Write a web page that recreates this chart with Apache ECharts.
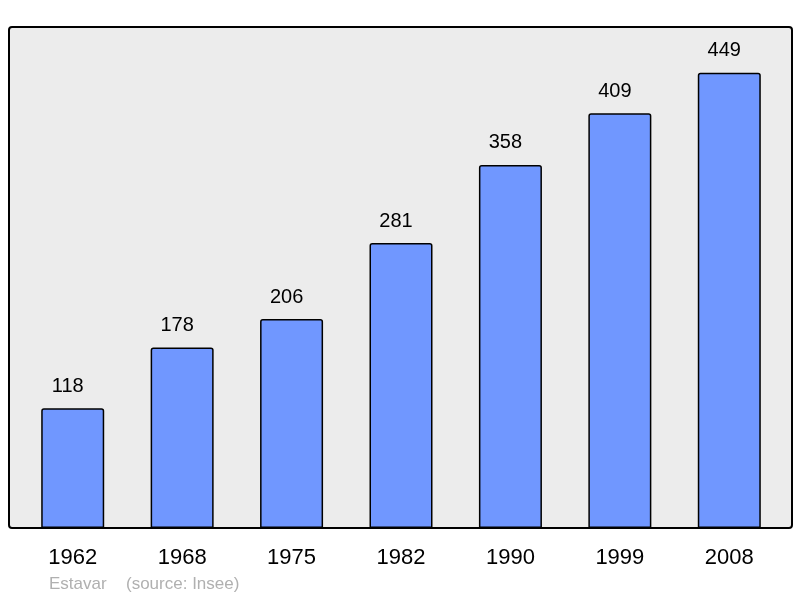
<!DOCTYPE html>
<html>
<head>
<meta charset="utf-8">
<script src="https://cdn.jsdelivr.net/npm/echarts@6/dist/echarts.min.js"></script>
<style>html,body{margin:0;padding:0;background:#fff}#c{width:800px;height:598px}</style>
</head>
<body>
<div id="c"></div>
<script>
const years = ['1962', '1968', '1975', '1982', '1990', '1999', '2008'];
const population = [118, 178, 206, 281, 358, 409, 449];
const commune = 'Estavar';
const source = '(source: Insee)';

const chart = echarts.init(document.getElementById('c'), null, {renderer: 'canvas'});
chart.setOption({
  animation: false,
  backgroundColor: '#ffffff',
  textStyle: {fontFamily: 'Liberation Sans, Arial, sans-serif'},
  graphic: [
    {type: 'rect', z: 0, shape: {x: 9, y: 27, width: 783, height: 501, r: 3},
     style: {fill: '#ececec', stroke: '#000', lineWidth: 2}},
    {type: 'text', left: 49, top: 576, z: 10,
     style: {text: commune, fill: '#b0b0b0', font: '17px "Liberation Sans", Arial, sans-serif'}},
    {type: 'text', left: 126, top: 576, z: 10,
     style: {text: source, fill: '#b0b0b0', font: '17px "Liberation Sans", Arial, sans-serif'}}
  ],
  grid: {left: 18, right: 16, top: 27, bottom: 70, containLabel: false},
  xAxis: {
    type: 'category', data: years,
    axisLine: {show: false}, axisTick: {show: false},
    axisLabel: {color: '#000', fontSize: 22, margin: 19, fontFamily: 'Liberation Sans, Arial, sans-serif'}
  },
  yAxis: {type: 'value', min: 0, max: 494, show: false, splitLine: {show: false}},
  series: [{
    type: 'bar', data: population, barWidth: 63, z: 5,
    itemStyle: {color: '#7097ff', borderColor: '#000', borderWidth: 1.5, borderRadius: [2, 2, 0, 0]},
    label: {show: true, position: 'top', distance: 12, offset: [-5, 0], color: '#000', fontSize: 20,
            fontFamily: 'Liberation Sans, Arial, sans-serif'}
  }]
});
</script>
</body>
</html>
